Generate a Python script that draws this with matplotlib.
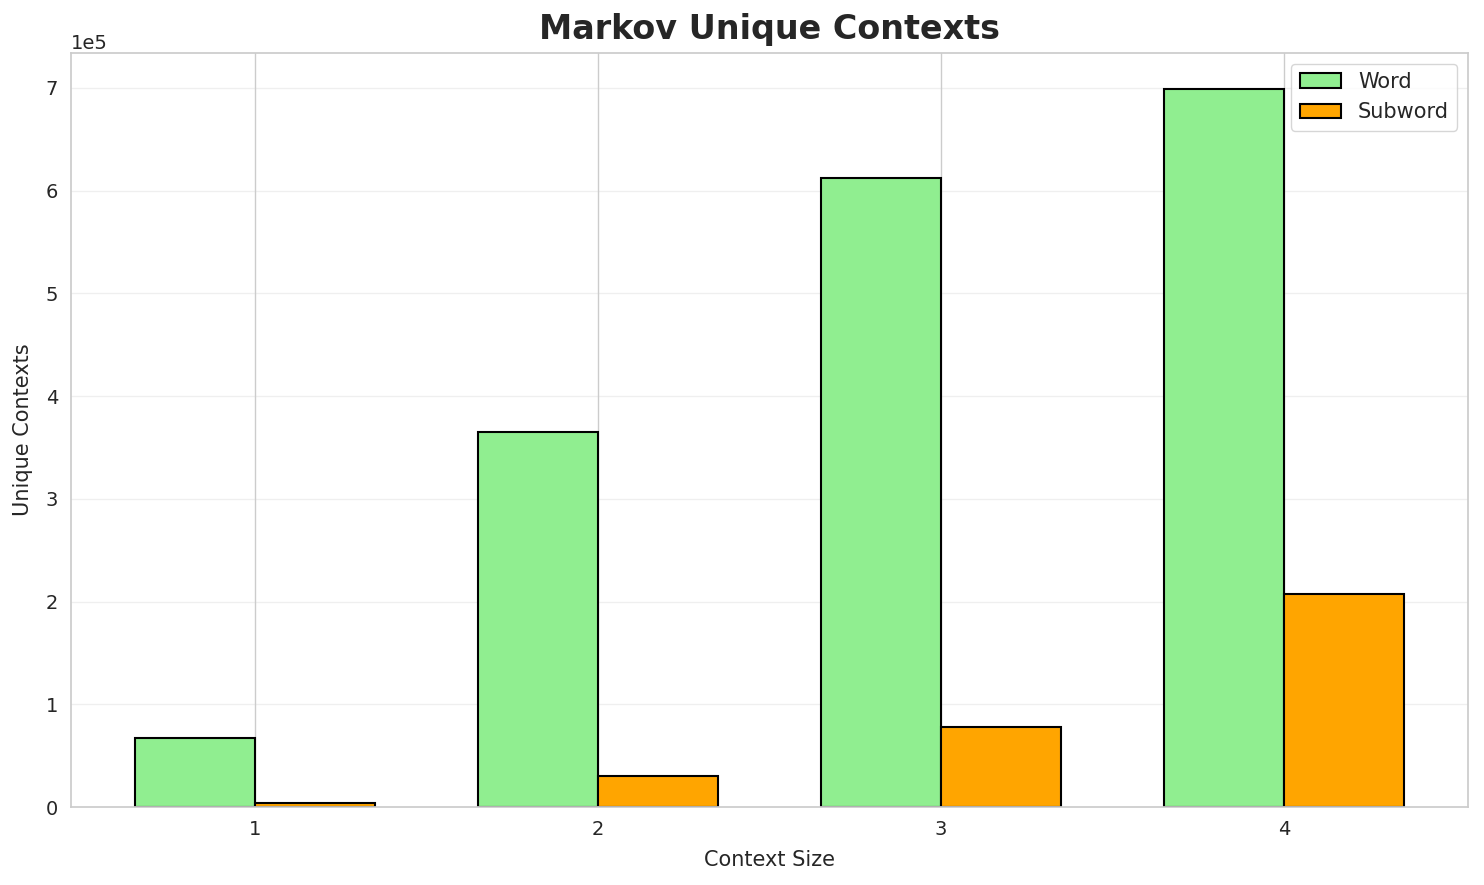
import matplotlib
matplotlib.use("Agg")
import matplotlib.pyplot as plt
import numpy as np
import seaborn as sns

# Values
context_sizes = [1, 2, 3, 4]
word_contexts = [67000, 365000, 612000, 699000]
subword_contexts = [3900, 30000, 78000, 207000]

sns.set_theme(style="whitegrid")
plt.rcParams["font.family"] = ["DejaVu Sans"]

fig, ax = plt.subplots(figsize=(14.84, 8.85), dpi=100)

x = np.array(context_sizes)
width = 0.35
ax.bar(x - width / 2, word_contexts, width, label="Word",
       color="lightgreen", edgecolor="black", linewidth=1.5)
ax.bar(x + width / 2, subword_contexts, width, label="Subword",
       color="orange", edgecolor="black", linewidth=1.5)

ax.set_xticks(x)
ax.set_xticklabels([str(c) for c in context_sizes])
ax.set_xlabel("Context Size", fontsize=15, labelpad=8)
ax.set_ylabel("Unique Contexts", fontsize=15, labelpad=9)
ax.set_title("Markov Unique Contexts", fontsize=24, fontweight="bold", pad=10)
ax.tick_params(labelsize=14)
ax.ticklabel_format(axis="y", style="sci", scilimits=(0, 0))
ax.yaxis.get_offset_text().set_fontsize(14)
ax.grid(axis="y", alpha=0.3)
ax.legend(fontsize=15)

fig.subplots_adjust(left=0.048, right=0.989, top=0.94, bottom=0.088)
fig.savefig("out.png", dpi=100)
